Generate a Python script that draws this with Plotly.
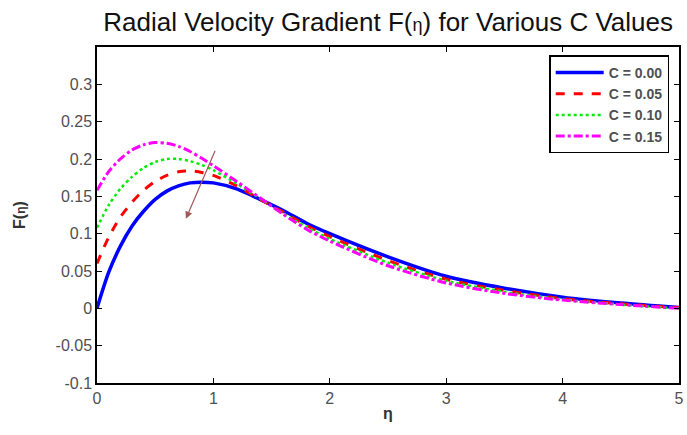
import plotly.graph_objects as go

eta = [0, 0.1, 0.2, 0.3, 0.4, 0.5, 0.6, 0.7, 0.8, 0.9, 1.0, 1.2, 1.4, 1.6, 1.8, 2.0, 2.5, 3.0, 3.5, 4.0, 4.5, 5.0]
F_c000 = [0.000, 0.048, 0.083, 0.110, 0.130, 0.146, 0.157, 0.164, 0.168, 0.169, 0.168, 0.160, 0.146, 0.131, 0.114, 0.100, 0.069, 0.043, 0.027, 0.015, 0.007, 0.001]
F_c005 = [0.060, 0.095, 0.122, 0.142, 0.158, 0.170, 0.178, 0.183, 0.184, 0.182, 0.178, 0.164, 0.146, 0.129, 0.111, 0.096, 0.064, 0.039, 0.024, 0.013, 0.006, 0.001]
F_c010 = [0.108, 0.138, 0.160, 0.176, 0.188, 0.196, 0.200, 0.200, 0.197, 0.192, 0.185, 0.167, 0.147, 0.127, 0.109, 0.093, 0.061, 0.037, 0.022, 0.012, 0.005, 0.000]
F_c015 = [0.158, 0.183, 0.200, 0.212, 0.219, 0.222, 0.221, 0.217, 0.210, 0.201, 0.191, 0.170, 0.148, 0.126, 0.106, 0.090, 0.057, 0.034, 0.020, 0.011, 0.005, 0.000]

labels = ["C = 0.00", "C = 0.05", "C = 0.10", "C = 0.15"]
colors = ["#0000ff", "#ff0000", "#00ee00", "#ff00ff"]
dashes = ["solid", "dash", "dot", "dashdot"]
widths = [3.5, 3, 2.5, 3]

yticks = [-0.1, -0.05, 0, 0.05, 0.1, 0.15, 0.2, 0.25, 0.3]
ytick_text = ["-0.1", "-0.05", "0", "0.05", "0.1", "0.15", "0.2", "0.25", "0.3"]
xticks = [0, 1, 2, 3, 4, 5]

fig = go.Figure()
for F, lab, col, d, w in zip([F_c000, F_c005, F_c010, F_c015], labels, colors, dashes, widths):
    fig.add_trace(go.Scatter(x=eta, y=F, mode="lines", name=lab,
                             line=dict(color=col, dash=d, width=w, shape="spline", smoothing=0.8)))

fig.add_annotation(x=0.764, y=0.12, ax=1.02, ay=0.213, xref="x", yref="y", axref="x", ayref="y",
                   showarrow=True, arrowhead=2, arrowsize=1.2, arrowwidth=1.2, arrowcolor="#a05a5a", text="")

axis_common = dict(showline=True, linecolor="black", linewidth=1.5, mirror="ticks",
                   ticks="inside", ticklen=5, tickcolor="black", showgrid=False, zeroline=False,
                   tickfont=dict(family="Liberation Sans, Arial", size=16, color="#505050"))

fig.update_layout(
    width=687, height=435,
    margin=dict(l=97, r=3, t=47, b=52),
    paper_bgcolor="white", plot_bgcolor="white",
    title=dict(text="Radial Velocity Gradient F(<span style='font-size:18px'>η</span>) for Various C Values",
               x=0.565, xanchor="center", y=0.95, yanchor="middle",
               font=dict(family="Liberation Sans, Arial", size=26, color="#111111")),
    xaxis=dict(range=[0, 5], tickvals=xticks, title=dict(text="<b>η</b>", standoff=2,
               font=dict(family="Liberation Sans, Arial", size=16, color="#333333")), **axis_common),
    yaxis=dict(range=[-0.1, 0.35], tickvals=yticks, ticktext=ytick_text,
               title=dict(text="<b>F(<span style='font-size:12px'>η</span>)</b>", standoff=26,
               font=dict(family="Liberation Sans, Arial", size=16, color="#333333")), **axis_common),
    legend=dict(x=0.777, y=0.975, xanchor="left", yanchor="top", bordercolor="black", borderwidth=1.5,
                bgcolor="white", tracegroupgap=0, itemwidth=48,
                font=dict(family="Liberation Sans, Arial", size=14, color="#505050", weight="bold")),
    showlegend=True,
)

fig.write_html("out.html")
